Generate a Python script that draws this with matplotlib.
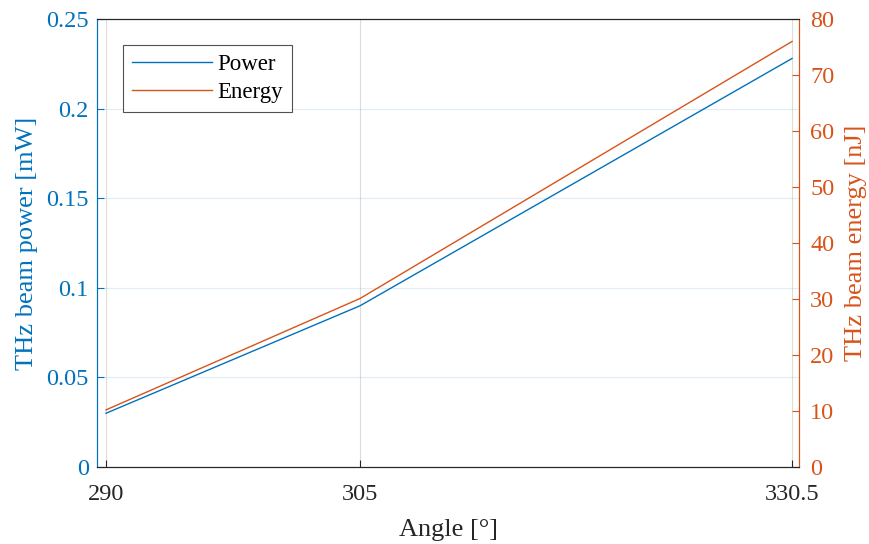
import matplotlib.pyplot as plt

plt.rcParams['font.family'] = ['Liberation Serif', 'DejaVu Serif']

angle = [290, 305, 330.5]
power_mw = [0.030, 0.090, 0.228]
energy_nj = [10.2, 30.1, 76.0]

blue = (0.0, 0.447, 0.741)
orange = (0.85, 0.325, 0.098)
dark = '#262626'

fig = plt.figure(figsize=(8.7, 5.44), dpi=100)
ax = fig.add_axes([0.1115, 0.1415, 0.8069, 0.8235])
ax2 = ax.twinx()

l1, = ax.plot(angle, power_mw, color=blue, lw=1.0, label='Power')
l2, = ax2.plot(angle, energy_nj, color=orange, lw=1.0, label='Energy')

ax.set_xlim(289.47, 330.91)
ax.set_ylim(0, 0.25)
ax2.set_ylim(0, 80)
ax.set_xticks(angle)
ax.set_xticklabels(['290', '305', '330.5'])
ax.set_yticks([0, 0.05, 0.1, 0.15, 0.2, 0.25])
ax.set_yticklabels(['0', '0.05', '0.1', '0.15', '0.2', '0.25'])
ax2.set_yticks(range(0, 81, 10))

ax.xaxis.grid(True, color='#dcdcdc', lw=0.8)
ax.yaxis.grid(True, color=blue, alpha=0.12, lw=0.8)

ax.tick_params(axis='x', direction='in', length=5, labelsize=17.5, colors=dark, pad=12)
ax.tick_params(axis='y', direction='in', length=5, labelsize=17.5, colors=blue, pad=6)
ax2.tick_params(axis='y', direction='in', length=5, labelsize=17.5, colors=orange, pad=8)

for a in (ax, ax2):
    a.spines['top'].set_color(dark)
    a.spines['bottom'].set_color(dark)
    a.spines['left'].set_color(blue)
    a.spines['right'].set_color(orange)

ax.set_xlabel('Angle [°]', fontsize=19, color=dark, labelpad=10)
ax.set_ylabel('THz beam power [mW]', fontsize=19, color=blue, labelpad=6)
ax2.set_ylabel('THz beam energy [nJ]', fontsize=19, color=orange, labelpad=8)

leg = ax.legend(handles=[l1, l2], loc='upper left', bbox_to_anchor=(0.037, 0.942),
                borderaxespad=0, fontsize=16.5, frameon=True, fancybox=False,
                edgecolor=dark, handlelength=3.5, borderpad=0.4, labelspacing=0.3,
                handletextpad=0.2)
leg.get_frame().set_linewidth(0.8)

fig.savefig('out.png', dpi=100)
